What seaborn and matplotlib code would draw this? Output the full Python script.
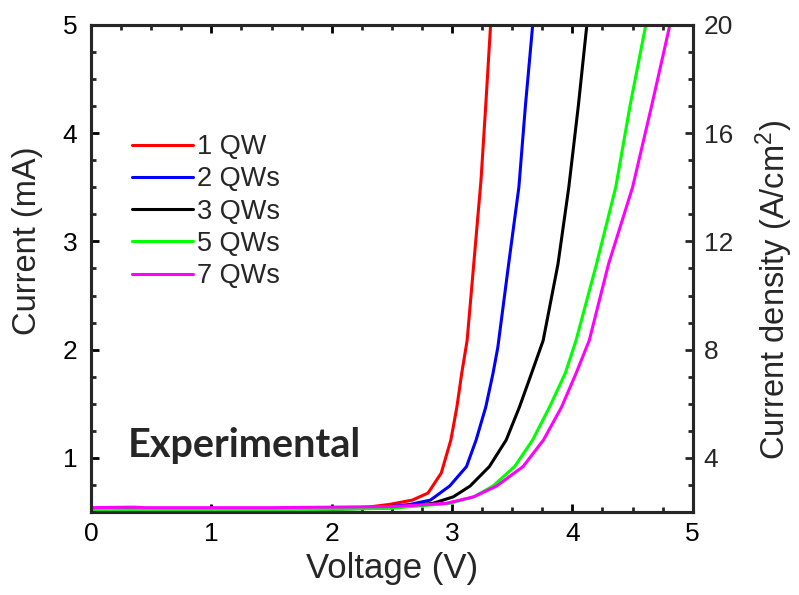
import numpy as np
import pandas as pd
import matplotlib
matplotlib.use("Agg")
import matplotlib.pyplot as plt
from matplotlib.ticker import MultipleLocator
import seaborn as sns

# ---- data ----
series_names = ["1 QW", "2 QWs", "3 QWs", "5 QWs", "7 QWs"]
series_colors = ["#ff0000", "#0000ff", "#000000", "#00ff00", "#ff00ff"]

v_1qw = [0.0, 0.5, 1.0, 1.5, 2.0, 2.3, 2.48, 2.67, 2.80, 2.91, 2.99, 3.04, 3.08, 3.125, 3.18, 3.24, 3.28, 3.32]
i_1qw = [0.525, 0.525, 0.525, 0.525, 0.53, 0.545, 0.57, 0.61, 0.675, 0.86, 1.166, 1.47, 1.78, 2.085, 2.79, 3.56, 4.26, 5.0]

v_2qw = [0.0, 0.5, 1.0, 1.5, 2.0, 2.4, 2.65, 2.82, 2.98, 3.12, 3.20, 3.28, 3.34, 3.38, 3.47, 3.555, 3.61, 3.67]
i_2qw = [0.525, 0.525, 0.525, 0.525, 0.53, 0.54, 0.57, 0.61, 0.74, 0.92, 1.166, 1.47, 1.78, 2.02, 2.79, 3.50, 4.26, 5.0]

v_3qw = [0.0, 0.5, 1.0, 1.5, 2.0, 2.5, 2.84, 3.01, 3.15, 3.31, 3.45, 3.56, 3.66, 3.757, 3.88, 3.97, 4.05, 4.12]
i_3qw = [0.52, 0.52, 0.52, 0.52, 0.525, 0.54, 0.58, 0.64, 0.74, 0.92, 1.166, 1.47, 1.78, 2.085, 2.79, 3.50, 4.26, 5.0]

v_5qw = [0.0, 0.5, 1.0, 1.5, 2.0, 2.5, 2.98, 3.18, 3.34, 3.52, 3.67, 3.81, 3.94, 4.03, 4.20, 4.36, 4.48, 4.61]
i_5qw = [0.52, 0.52, 0.52, 0.52, 0.525, 0.535, 0.58, 0.64, 0.74, 0.92, 1.166, 1.47, 1.78, 2.085, 2.79, 3.50, 4.26, 5.0]

v_7qw = [0.0, 0.35, 0.45, 1.0, 1.5, 2.0, 2.5, 2.95, 3.18, 3.37, 3.59, 3.76, 3.91, 4.03, 4.14, 4.30, 4.50, 4.66, 4.81]
i_7qw = [0.54, 0.545, 0.54, 0.54, 0.54, 0.545, 0.55, 0.58, 0.64, 0.74, 0.92, 1.166, 1.47, 1.78, 2.085, 2.79, 3.50, 4.26, 5.0]

x_ticks = [0, 1, 2, 3, 4, 5]
y_ticks = [1, 2, 3, 4, 5]
y2_ticks = [4, 8, 12, 16, 20]

frames = []
for name, v, i in zip(series_names,
                      [v_1qw, v_2qw, v_3qw, v_5qw, v_7qw],
                      [i_1qw, i_2qw, i_3qw, i_5qw, i_7qw]):
    frames.append(pd.DataFrame({"V": v, "I": i, "series": name}))
df = pd.concat(frames, ignore_index=True)

sns.set_style("ticks")
plt.rcParams["font.family"] = ["Liberation Sans", "DejaVu Sans"]
plt.rcParams["mathtext.fontset"] = "custom"
plt.rcParams["mathtext.rm"] = "Liberation Sans"
plt.rcParams["mathtext.it"] = "Liberation Sans"

fig, ax = plt.subplots(figsize=(7.99, 5.95), dpi=100)
fig.subplots_adjust(left=0.114, right=0.867, top=0.958, bottom=0.1395)

sns.lineplot(data=df, x="V", y="I", hue="series", hue_order=series_names,
             palette=dict(zip(series_names, series_colors)), ax=ax,
             linewidth=2.2, sort=False, estimator=None)

ax.set_xlim(0, 5)
ax.set_ylim(0.5, 5)
ax.set_xticks(x_ticks)
ax.set_yticks(y_ticks)
ax.xaxis.set_minor_locator(MultipleLocator(0.25))
ax.yaxis.set_minor_locator(MultipleLocator(0.25))

lw = 2.2
for s in ax.spines.values():
    s.set_linewidth(lw)
    s.set_color("black")

ax.tick_params(axis="both", which="major", direction="in", length=6, width=2,
               labelsize=19, colors="black")
ax.tick_params(axis="both", which="minor", direction="in", length=3.5, width=2)
ax.tick_params(axis="x", which="both", top=True, bottom=True)
ax.tick_params(axis="x", which="major", pad=7)
ax.tick_params(axis="y", which="both", left=True, right=False)
ax.tick_params(axis="y", which="major", pad=10)

ax.set_xlabel("Voltage (V)", fontsize=25)
ax.set_ylabel("Current (mA)", fontsize=23.5)
ax.xaxis.set_label_coords(0.5, -0.115)
ax.xaxis.label.set_va("center")
ax.yaxis.set_label_coords(-0.105, 0.556)
ax.yaxis.label.set_va("center")

ax2 = ax.twinx()
ax2.set_ylim(2, 20)
ax2.set_yticks(y2_ticks)
ax2.yaxis.set_minor_locator(MultipleLocator(1))
ax2.tick_params(axis="y", which="major", direction="in", length=6, width=2,
                labelsize=19, pad=8)
ax2.tick_params(axis="y", which="minor", direction="in", length=3.5, width=2)
for s in ax2.spines.values():
    s.set_linewidth(lw)
ax2.set_ylabel("Current density (A/cm$^2$)", fontsize=23.5)
ax2.yaxis.set_label_coords(1.136, 0.456)
ax2.yaxis.label.set_va("center")

leg = ax.legend(frameon=False, loc="upper left", bbox_to_anchor=(0.0676, 0.776),
                borderaxespad=0, borderpad=0, fontsize=19.5, handlelength=2.26,
                handletextpad=0.15, labelspacing=0.23, title=None)
for h in leg.get_lines():
    h.set_linewidth(2.2)

ax.text(0.0615, 0.113, "Experimental", transform=ax.transAxes, fontsize=28.5,
        fontweight="bold", family=["Lato", "DejaVu Sans"], va="baseline", ha="left")

fig.savefig("out.png", dpi=100)
